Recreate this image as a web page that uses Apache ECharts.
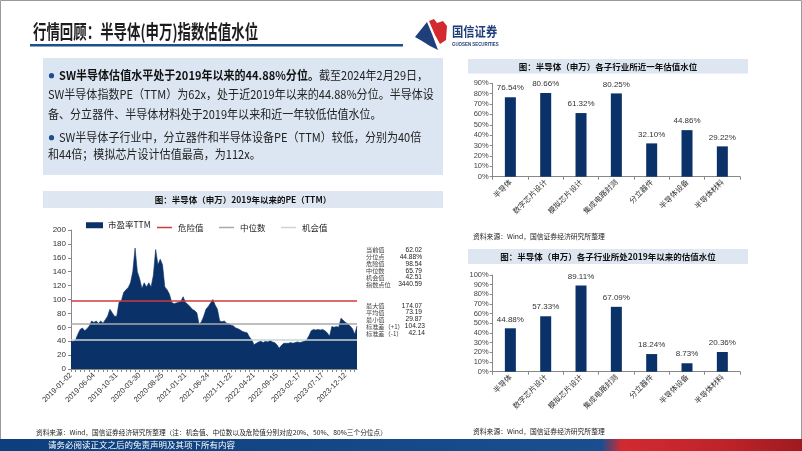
<!DOCTYPE html>
<html><head><meta charset="utf-8">
<script src="https://cdn.jsdelivr.net/npm/echarts@6/dist/echarts.min.js"></script>
<style>html,body{margin:0;padding:0;background:#fff}#c{width:802px;height:451px}</style>
</head><body><div id="c"></div>
<script>
// ---- data ----
const peTickLabels = ['2019-01-02','2019-06-04','2019-10-31','2020-03-30','2020-08-25','2021-01-21','2021-06-24','2021-11-22','2022-04-21','2022-09-15','2023-02-17','2023-07-17','2023-12-12'];
const peValues = [
 40,40,42,50,57,59,55,58,62,69,
 67,69,66,69,66,71,76,86,81,76,
 76,96,98,110,114,117,124,140,174,140,
 130,116,124,118,124,118,135,172,150,158,
 150,118,114,108,96,94,95,96,97,104,
 96,93,90,86,84,81,64,68,76,86,
 90,95,100,92,86,69,68,69,66,65,
 63,62,59,58,56,54,53,52,46,42,
 35,37,39,40,38,40,39,41,39,38,
 35,30,34,37,37,37,38,37,38,39,
 38,39,40,42,48,55,57,56,57,56,
 57,55,52,47,61,60,61,60,73,70,
 67,65,62,58,50,62
];
const dangerValue = 98.54, medianValue = 65.79, chanceValue = 42.51;
const statLabels1 = ['当前值','分位点','危险值','中位数','机会值','指数点位'];
const statValues1 = ['62.02','44.88%','98.54','65.79','42.51','3440.59'];
const statLabels2 = ['最大值','平均值','最小值','标准差（+1）','标准差（-1）'];
const statValues2 = ['174.07','73.19','29.87','104.23','42.14'];
const subCategories = ['半导体','数字芯片设计','模拟芯片设计','集成电路封测','分立器件','半导体设备','半导体材料'];
const pctOneYear = [76.54,80.66,61.32,80.25,32.10,44.86,29.22];
const pctSince2019 = [44.88,57.33,89.11,67.09,18.24,8.73,20.36];

// ---- build ----
const peCategories = peValues.map((v, i) => i % 10 === 0 ? peTickLabels[i / 10] : '');
const navy = '#0b3268';
const red = '#d0393e';
const grey = '#a8a8a8';
const light = '#c9d7d4';
const FONT = '"Noto Sans CJK SC", sans-serif';
const AXF = '"Liberation Sans", "Noto Sans CJK SC", sans-serif';

const chart = echarts.init(document.getElementById('c'), null, {renderer: 'canvas'});

const graphics = [];
graphics.push({type:'rect', shape:{x:0.5,y:0.5,width:801,height:450}, style:{fill:'none', stroke:'#9a9a9a', lineWidth:1}, z:-1});
// title
graphics.push({type:'text', x:33, y:31.5, scaleX:0.707, style:{text:'行情回顾：半导体(申万)指数估值水位', font:'bold 19px '+FONT, fill:'#1c1c1c', textVerticalAlign:'middle'}});
graphics.push({type:'rect', shape:{x:30,y:44,width:373,height:2.5}, style:{fill:'#1f4e8c'}});
// logo
graphics.push({type:'polygon', shape:{points:[[415,37],[427,22],[432,34],[438,50],[430,46],[422,41]]}, style:{fill:'#1f3f7c'}});
graphics.push({type:'polygon', shape:{points:[[429,21],[434,19],[437,23],[443,21],[447,26],[446,40],[440,44],[435,35]]}, style:{fill:'#d32a30'}});
graphics.push({type:'text', x:452, y:31, scaleX:0.87, style:{text:'国信证券', font:'bold 13px '+FONT, fill:'#1f3d7a', textVerticalAlign:'middle'}});
graphics.push({type:'text', x:452, y:44.5, scaleX:0.8, style:{text:'GUOSEN SECURITIES', font:'bold 5.5px '+AXF, fill:'#1f3d7a', textVerticalAlign:'middle'}});
// text box
graphics.push({type:'rect', shape:{x:43,y:58,width:400,height:117}, style:{fill:'#dce6f2'}});
graphics.push({type:'circle', shape:{cx:51.5, cy:75.7, r:2.6}, style:{fill:'#1f4e8c'}});
graphics.push({type:'circle', shape:{cx:51.5, cy:137.7, r:2.6}, style:{fill:'#1f4e8c'}});
const tbLines = [
  {x:59, y:75.7, rich:true, text:'{b|SW半导体估值水平处于2019年以来的44.88%分位。}{n|截至2024年2月29日，}'},
  {x:48, y:94, text:'SW半导体指数PE（TTM）为62x，处于近2019年以来的44.88%分位。半导体设'},
  {x:48, y:114, text:'备、分立器件、半导体材料处于2019年以来和近一年较低估值水位。'},
  {x:59, y:137.7, text:'SW半导体子行业中，分立器件和半导体设备PE（TTM）较低，分别为40倍'},
  {x:48, y:154, text:'和44倍；模拟芯片设计估值最高，为112x。'}
];
tbLines.forEach(l => {
  const st = {text:l.text, font:'12px '+FONT, fill:'#222', textVerticalAlign:'middle'};
  if (l.rich) st.rich = {b:{font:'bold 12px '+FONT, fill:'#111'}, n:{font:'12px '+FONT, fill:'#222'}};
  graphics.push({type:'text', x:l.x, y:l.y, scaleX:0.92, style:st});
});
// bands
graphics.push({type:'rect', shape:{x:43,y:191,width:400,height:17}, style:{fill:'#dde6f1'}});
graphics.push({type:'text', x:243, y:199.5, style:{text:'图：半导体（申万）2019年以来的PE（TTM）', font:'bold 8.5px '+FONT, fill:'#111', textAlign:'center', textVerticalAlign:'middle'}});
graphics.push({type:'rect', shape:{x:468,y:59,width:280,height:14.5}, style:{fill:'#dde6f1'}});
graphics.push({type:'text', x:608, y:66.3, style:{text:'图：半导体（申万）各子行业所近一年估值水位', font:'bold 8.5px '+FONT, fill:'#111', textAlign:'center', textVerticalAlign:'middle'}});
graphics.push({type:'rect', shape:{x:468,y:249,width:280,height:15}, style:{fill:'#dde6f1'}});
graphics.push({type:'text', x:608, y:256.8, style:{text:'图：半导体（申万）各子行业所处2019年以来的估值水位', font:'bold 8.5px '+FONT, fill:'#111', textAlign:'center', textVerticalAlign:'middle'}});
// sources
graphics.push({type:'text', x:36, y:432.5, style:{text:'资料来源：Wind，国信证券经济研究所整理（注：机会值、中位数以及危险值分别对应20%、50%、80%三个分位点）', font:'6.7px '+FONT, fill:'#222', textVerticalAlign:'middle'}});
graphics.push({type:'text', x:473, y:236.8, style:{text:'资料来源：Wind，国信证券经济研究所整理', font:'6.8px '+FONT, fill:'#222', textVerticalAlign:'middle'}});
graphics.push({type:'text', x:473, y:431.8, style:{text:'资料来源：Wind，国信证券经济研究所整理', font:'6.8px '+FONT, fill:'#222', textVerticalAlign:'middle'}});
// stats block
const rows1 = [250, 256.9, 263.8, 270.7, 277.6, 284.5];
const rows2 = [305.7, 312.6, 319.5, 326.4, 333.3];
statLabels1.forEach((t,i) => {
  graphics.push({type:'text', x:366, y:rows1[i], style:{text:t, font:'6.2px '+FONT, fill:'#444', textVerticalAlign:'middle'}});
  graphics.push({type:'text', x:422, y:rows1[i], style:{text:statValues1[i], font:'6.6px '+AXF, fill:'#222', textAlign:'right', textVerticalAlign:'middle'}});
});
statLabels2.forEach((t,i) => {
  graphics.push({type:'text', x:366, y:rows2[i], style:{text:t, font:'6.2px '+FONT, fill:'#444', textVerticalAlign:'middle'}});
  graphics.push({type:'text', x:i >= 3 ? 425 : 422, y:rows2[i], style:{text:statValues2[i], font:'6.6px '+AXF, fill:'#222', textAlign:'right', textVerticalAlign:'middle'}});
});
// bottom bar
graphics.push({type:'rect', shape:{x:0,y:439,width:802,height:12}, style:{fill:new echarts.graphic.LinearGradient(0,0,1,0,[
  {offset:0, color:'#0d3f7e'},{offset:0.75, color:'#1b4e8e'},{offset:0.775, color:'#d12a31'},{offset:0.9, color:'#c0232a'},{offset:1, color:'#9e1a20'}])}});
graphics.push({type:'text', x:48, y:445, style:{text:'请务必阅读正文之后的免责声明及其项下所有内容', font:'8.5px '+FONT, fill:'#fff', textVerticalAlign:'middle'}});

const lineSeries = (name, color, value) => ({
  name, type:'line', xAxisIndex:0, yAxisIndex:0, data:[], symbol:'none', z:4,
  itemStyle:{color}, lineStyle:{color, width:1.5},
  markLine:{silent:true, symbol:['none','none'], label:{show:false}, animation:false,
    lineStyle:{color, width:1.5, type:'solid'}, data:[{yAxis:value}]}
});

const legendText = {fontSize:8.5, color:'#222', fontFamily:FONT};
const lineIcon = 'path://M0,0H20V2H0Z';
const lineLegend = (left, name) => ({left, top:218.25, itemWidth:17, itemHeight:1.5, selectedMode:false, textStyle:legendText, data:[{name, icon:lineIcon}]});

const barAxisX = (gi) => ({
  type:'category', gridIndex:gi, data:subCategories,
  axisLine:{lineStyle:{color:'#888'}}, axisTick:{show:true, length:3, lineStyle:{color:'#888'}},
  axisLabel:{rotate:45, fontSize:7.5, color:'#333', margin:4, fontFamily:FONT}
});
const barAxisY = (gi, max) => ({
  type:'value', gridIndex:gi, min:0, max, interval:10,
  axisLine:{show:true, lineStyle:{color:'#888'}}, axisTick:{show:true, length:3, lineStyle:{color:'#888'}},
  splitLine:{show:false}, axisLabel:{fontSize:7.5, color:'#444', margin:4, formatter:'{value}%', fontFamily:AXF}
});
const barSeries = (gi, data) => ({
  type:'bar', xAxisIndex:gi, yAxisIndex:gi, data, barWidth:11,
  itemStyle:{color:navy},
  label:{show:true, position:'top', distance:5, fontSize:8, color:'#333', fontFamily:AXF,
    formatter:p => p.value.toFixed(2) + '%'}
});

chart.setOption({
  animation:false,
  textStyle:{fontFamily:FONT},
  graphic:{elements:graphics},
  legend:[
    {left:81, top:216, itemWidth:17, itemHeight:6, selectedMode:false, textStyle:legendText, data:[{name:'市盈率TTM', icon:'rect'}]},
    lineLegend(152, '危险值'),
    lineLegend(214, '中位数'),
    lineLegend(276, '机会值')
  ],
  grid:[
    {left:71, top:230, width:286, height:139},
    {left:492.7, top:83.3, width:247.3, height:93.4},
    {left:492.7, top:275, width:247.3, height:96.7}
  ],
  xAxis:[
    {type:'category', gridIndex:0, data:peCategories, boundaryGap:false,
     axisLine:{lineStyle:{color:'#888'}}, axisTick:{show:true, interval:1, length:3, lineStyle:{color:'#888'}},
     axisLabel:{interval:9, rotate:45, fontSize:7.5, color:'#333', margin:5, fontFamily:AXF}},
    barAxisX(1), barAxisX(2)
  ],
  yAxis:[
    {type:'value', gridIndex:0, min:0, max:200, interval:20,
     axisLine:{show:true, lineStyle:{color:'#888'}}, axisTick:{show:true, length:3, lineStyle:{color:'#888'}},
     splitLine:{show:false}, axisLabel:{fontSize:8, color:'#333', margin:5, fontFamily:AXF}},
    barAxisY(1, 90), barAxisY(2, 100)
  ],
  series:[
    {name:'市盈率TTM', type:'line', xAxisIndex:0, yAxisIndex:0, data:peValues, symbol:'none', z:2,
     itemStyle:{color:navy}, lineStyle:{color:navy, width:0.6}, areaStyle:{color:navy, opacity:1}},
    lineSeries('危险值', red, dangerValue),
    lineSeries('中位数', grey, medianValue),
    lineSeries('机会值', light, chanceValue),
    barSeries(1, pctOneYear),
    barSeries(2, pctSince2019)
  ]
});
</script>
</body></html>
